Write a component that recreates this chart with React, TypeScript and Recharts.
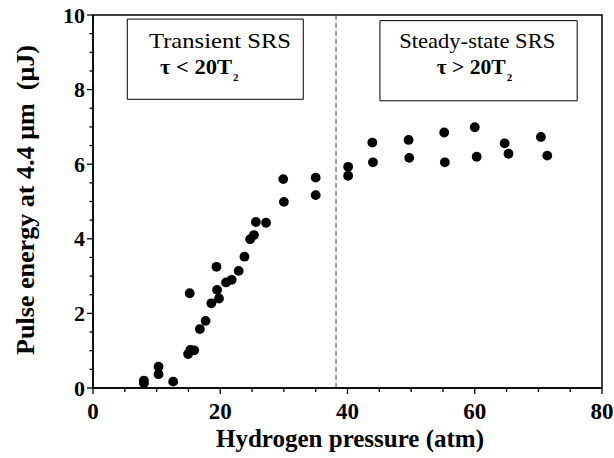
import React from 'react';
import { ScatterChart, Scatter, XAxis, YAxis, ReferenceArea, ReferenceLine } from 'recharts';

// Hydrogen pressure (atm)
const pressure = [
  8.0, 8.0, 10.3, 10.3, 12.6, 14.95, 15.3, 15.9, 15.2, 16.8,
  17.7, 18.6, 19.8, 19.5, 19.4, 20.9, 21.8, 22.9, 23.8, 24.7,
  25.3, 25.6, 27.2, 29.9, 30.0, 35.0, 35.0, 40.1, 40.1, 43.9,
  44.0, 49.6, 49.7, 55.2, 55.3, 60.0, 60.3, 64.7, 65.3, 70.4,
  71.4,
];
// Pulse energy at 4.4 um (uJ)
const energy = [
  0.13, 0.2, 0.37, 0.57, 0.17, 0.91, 1.02, 1.01, 2.54, 1.58,
  1.8, 2.27, 2.4, 2.63, 3.25, 2.83, 2.9, 3.14, 3.52, 3.99,
  4.1, 4.45, 4.43, 5.6, 4.99, 5.64, 5.17, 5.93, 5.69, 6.58,
  6.05, 6.65, 6.17, 6.85, 6.05, 6.99, 6.2, 6.56, 6.28, 6.73,
  6.23,
];

const xTicks = [0, 5, 10, 15, 20, 25, 30, 35, 40, 45, 50, 55, 60, 65, 70, 75, 80];
const xTickLabels = ['0', '20', '40', '60', '80'];
const yTicks = [0, 0.5, 1, 1.5, 2, 2.5, 3, 3.5, 4, 4.5, 5, 5.5, 6, 6.5, 7, 7.5, 8, 8.5, 9, 9.5, 10];
const yTickLabels = ['0', '2', '4', '6', '8', '10'];

const regimeBoundary = 38.2;
const transientRegion = { x1: 5.39, x2: 33.05, y1: 7.74, y2: 9.89 };
const steadyRegion = { x1: 45.1, x2: 76.1, y1: 7.7, y2: 9.85 };

const data = pressure.map((p, i) => ({ pressure: p, energy: energy[i] }));

const FONT = '"Liberation Serif", "Times New Roman", serif';

const XTick = (props: any) => {
  const { x, y, payload } = props;
  const v = payload.value;
  const label = String(v);
  const major = xTickLabels.includes(label);
  return (
    <g>
      <line x1={x} x2={x} y1={y} y2={y + (major ? 6 : 4)} stroke="#000" strokeWidth={1.3} />
      {major && (
        <text x={x} y={y + 31} textAnchor="middle" fontFamily={FONT} fontWeight="bold" fontSize={23} fill="#000">
          {label}
        </text>
      )}
    </g>
  );
};

const YTick = (props: any) => {
  const { x, y, payload } = props;
  const v = payload.value;
  const label = String(v);
  const major = yTickLabels.includes(label);
  return (
    <g>
      <line x1={x} x2={x - (major ? 6 : 3.5)} y1={y} y2={y} stroke="#000" strokeWidth={1.3} />
      {major && (
        <text x={x - 8} y={y + 7.5} textAnchor="end" fontFamily={FONT} fontWeight="bold" fontSize={22} fill="#000">
          {label}
        </text>
      )}
    </g>
  );
};

const makeBoxLabel = (
  title: string,
  tau: string,
  o: { tx: number; ty: number; tl: number; sx: number; sy: number; sl: number }
) => (props: any) => {
  const vb = props.viewBox || {};
  const x = vb.x;
  const y = vb.y;
  return (
    <g>
      <text
        x={x + o.tx}
        y={y + o.ty}
        fontFamily={FONT}
        fontSize={21}
        fill="#000"
        textLength={o.tl}
        lengthAdjust="spacingAndGlyphs"
      >
        {title}
      </text>
      <text
        x={x + o.sx}
        y={y + o.sy}
        fontFamily={FONT}
        fontWeight="bold"
        fontSize={21}
        fill="#000"
        textLength={o.sl}
        lengthAdjust="spacingAndGlyphs"
      >
        {tau}
      </text>
      <text x={x + o.sx + o.sl + 1} y={y + o.sy + 7} fontFamily={FONT} fontWeight="bold" fontSize={11} fill="#000">
        2
      </text>
    </g>
  );
};

const XTitle = (props: any) => {
  const vb = props.viewBox || {};
  return (
    <text
      x={vb.x + vb.width / 2 + 2.5}
      y={vb.y + 59}
      textAnchor="middle"
      fontFamily={FONT}
      fontWeight="bold"
      fontSize={25}
      fill="#000"
      textLength={268}
      lengthAdjust="spacingAndGlyphs"
    >
      Hydrogen pressure (atm)
    </text>
  );
};

const YTitle = (props: any) => {
  const vb = props.viewBox || {};
  const cx = 34;
  const cy = vb.y + vb.height / 2 - 1.5;
  return (
    <text
      x={cx}
      y={cy}
      transform={`rotate(-90 ${cx} ${cy})`}
      textAnchor="middle"
      fontFamily={FONT}
      fontWeight="bold"
      fontSize={26}
      fill="#000"
      textLength={310}
      lengthAdjust="spacingAndGlyphs"
      style={{ whiteSpace: 'pre' }}
    >
      {'Pulse energy at 4.4 μm  (μJ)'}
    </text>
  );
};

const Dot = (props: any) => {
  const { cx, cy } = props;
  return <circle cx={cx} cy={cy} r={4.9} fill="#000" />;
};

export default function App() {
  return (
    <div style={{ position: 'absolute', left: 0, top: 0, background: '#fff' }}>
      <ScatterChart width={614} height={458} margin={{ top: 15, right: 12, bottom: 0, left: 0 }}>
        <XAxis
          type="number"
          dataKey="pressure"
          domain={[0, 80]}
          ticks={xTicks}
          interval={0}
          tickSize={0}
          tickMargin={0}
          tickLine={false}
          tick={<XTick />}
          axisLine={{ stroke: '#000', strokeWidth: 1.5 }}
          height={70}
          allowDataOverflow
          label={<XTitle />}
        />
        <YAxis
          type="number"
          dataKey="energy"
          domain={[0, 10]}
          ticks={yTicks}
          interval={0}
          tickSize={0}
          tickMargin={0}
          tickLine={false}
          tick={<YTick />}
          axisLine={{ stroke: '#000', strokeWidth: 1.5 }}
          width={93}
          allowDataOverflow
          label={<YTitle />}
        />
        <ReferenceArea x1={0} x2={80} y1={0} y2={10} fill="none" fillOpacity={0} stroke="#000" strokeWidth={1.5} />
        <ReferenceLine x={regimeBoundary} stroke="#666" strokeDasharray="5 3" strokeWidth={1.2} />
        <ReferenceArea
          x1={transientRegion.x1}
          x2={transientRegion.x2}
          y1={transientRegion.y1}
          y2={transientRegion.y2}
          fill="#fff"
          fillOpacity={1}
          stroke="#000"
          strokeWidth={1}
          label={makeBoxLabel('Transient SRS', 'τ < 20T', { tx: 21.7, ty: 29, tl: 142, sx: 32.7, sy: 55, sl: 72 })}
        />
        <ReferenceArea
          x1={steadyRegion.x1}
          x2={steadyRegion.x2}
          y1={steadyRegion.y1}
          y2={steadyRegion.y2}
          fill="#fff"
          fillOpacity={1}
          stroke="#000"
          strokeWidth={1}
          label={makeBoxLabel('Steady-state SRS', 'τ > 20T', { tx: 19.3, ty: 27, tl: 156, sx: 56.7, sy: 53, sl: 69 })}
        />
        <Scatter data={data} shape={<Dot />} isAnimationActive={false} />
      </ScatterChart>
    </div>
  );
}
